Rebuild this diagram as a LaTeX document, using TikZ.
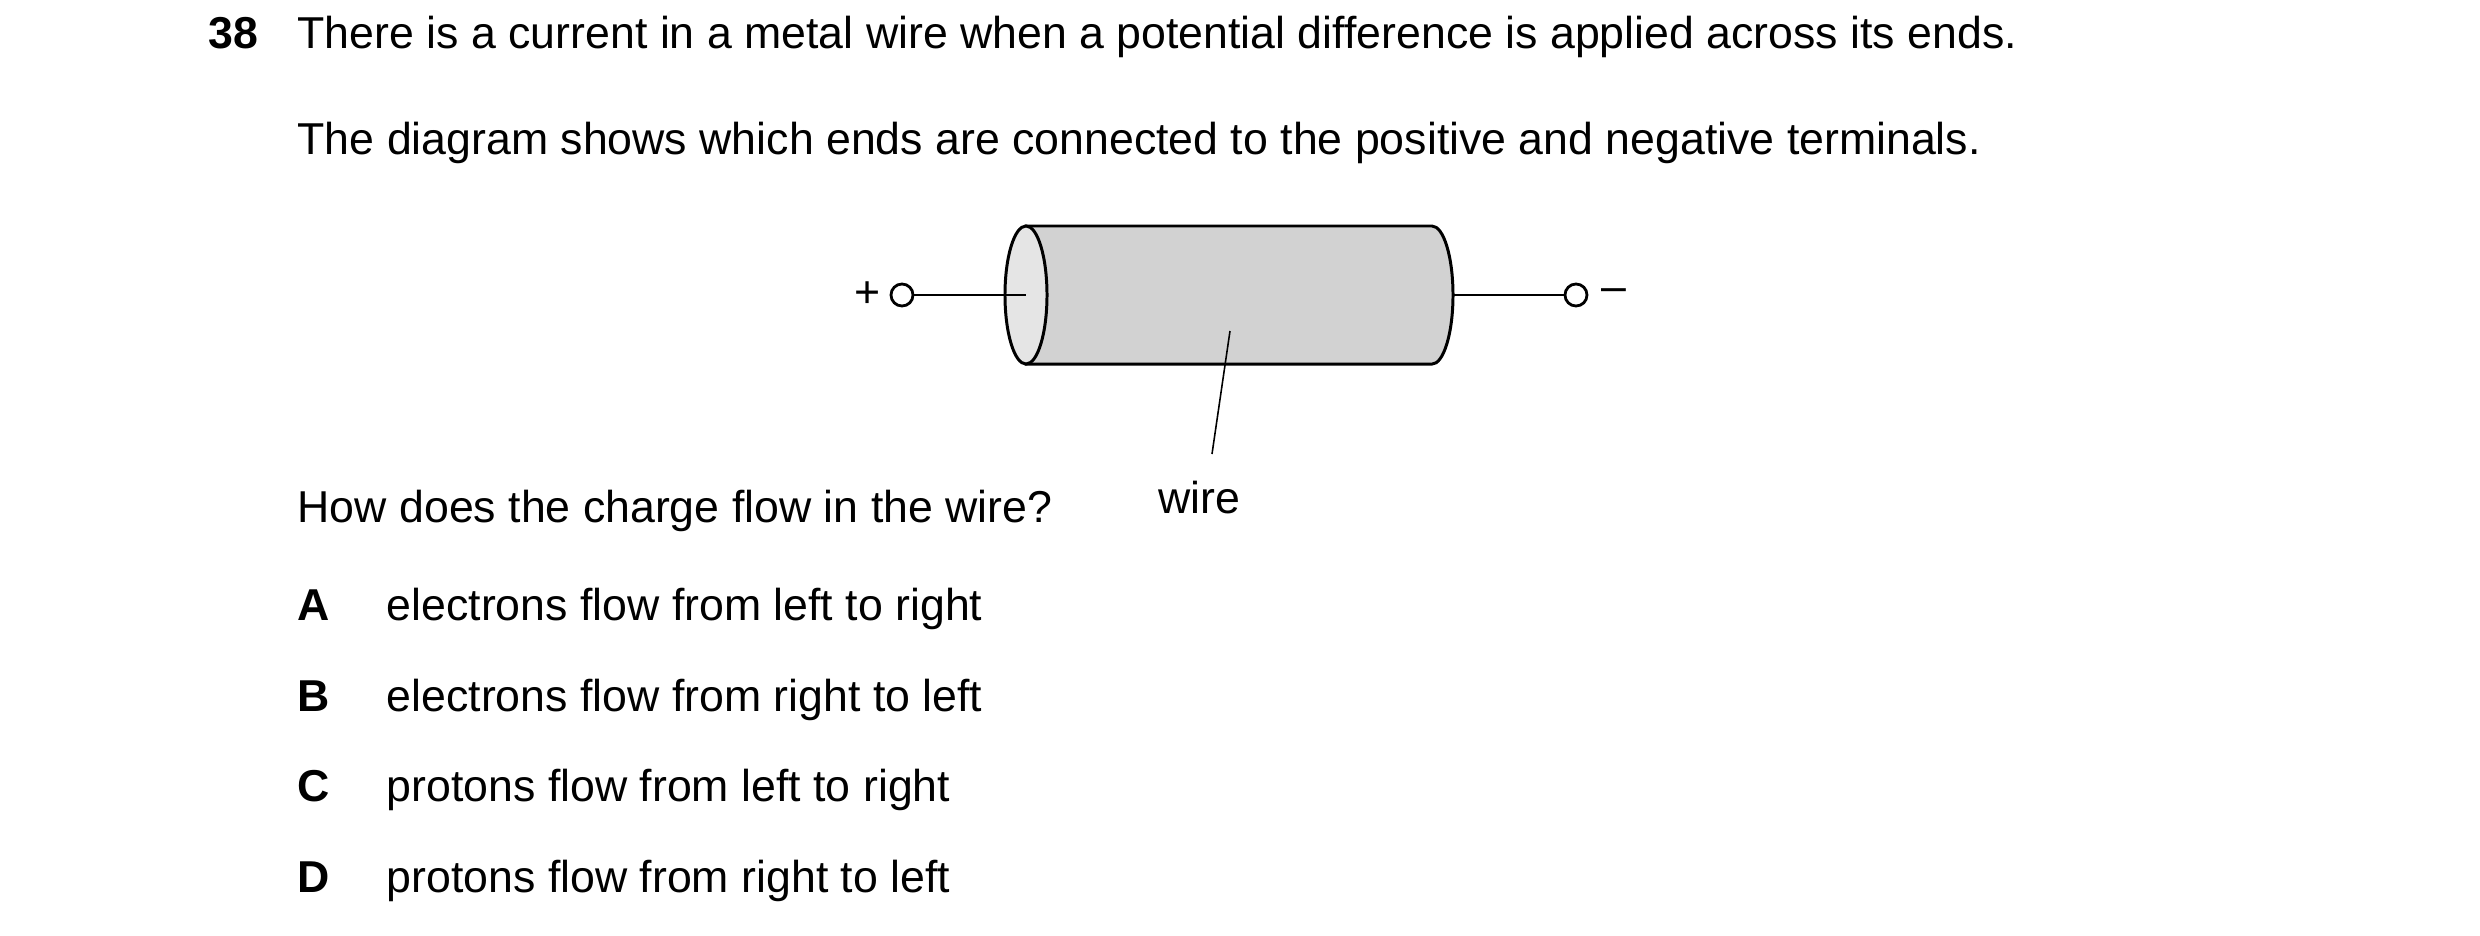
\documentclass[tikz,border=0pt]{standalone}
\usepackage{fontspec}
\setmainfont{Liberation Sans}
\begin{document}
\begin{tikzpicture}[x=0.01cm,y=-0.01cm,
  txt/.style={anchor=base west,inner sep=0pt,font=\fontsize{12.7}{15}\selectfont},
  terminal/.style={circle,draw,line width=0.8pt,fill=white,minimum size=0.22cm,inner sep=0pt}]
\useasboundingbox (0,0) rectangle (2480,936);

\node[txt,font=\fontsize{12.7}{15}\selectfont\bfseries] (num) at (208,48) {38};
\node[txt] (line1) at (297,48) {There is a current in a metal wire when a potential difference is applied across its ends.};
\node[txt] (line2) at (297,154) {The diagram shows which ends are connected to the positive and negative terminals.};

% wire
\draw[line width=0.85pt,fill=gray!35] (1026,226) -- (1432,226)
  arc[start angle=90,end angle=-90,x radius=0.21cm,y radius=0.69cm] -- (1026,364) -- cycle;
\draw[line width=0.85pt,fill=gray!20] (1026,295) ellipse [x radius=0.21cm,y radius=0.69cm];

\coordinate (lend) at (1026,295);
\coordinate (rend) at (1453,295);
\node[terminal] (pos) at (902,295) {};
\node[terminal] (neg) at (1576,295) {};
\draw[line width=0.85pt] (pos) -- (lend);
\draw[line width=0.85pt] (rend) -- (neg);
\node[txt,anchor=center] (plus) at (868,295) {+};
\node[txt,anchor=center] (minus) at (1614,295) {--};

\coordinate (tip) at (1230,331);
\node[txt,anchor=base] (wire) at (1199,513) {wire};
\draw[line width=0.45pt] (tip) -- (1212,454);

\node[txt] (quest) at (297,522) {How does the charge flow in the wire?};

\node[txt,font=\fontsize{12.7}{15}\selectfont\bfseries] (la) at (297,620) {A};
\node[txt] (oa) at (386,620) {electrons flow from left to right};
\node[txt,font=\fontsize{12.7}{15}\selectfont\bfseries] (lb) at (297,711) {B};
\node[txt] (ob) at (386,711) {electrons flow from right to left};
\node[txt,font=\fontsize{12.7}{15}\selectfont\bfseries] (lc) at (297,801) {C};
\node[txt] (oc) at (386,801) {protons flow from left to right};
\node[txt,font=\fontsize{12.7}{15}\selectfont\bfseries] (ld) at (297,892) {D};
\node[txt] (od) at (386,892) {protons flow from right to left};
\end{tikzpicture}
\end{document}
